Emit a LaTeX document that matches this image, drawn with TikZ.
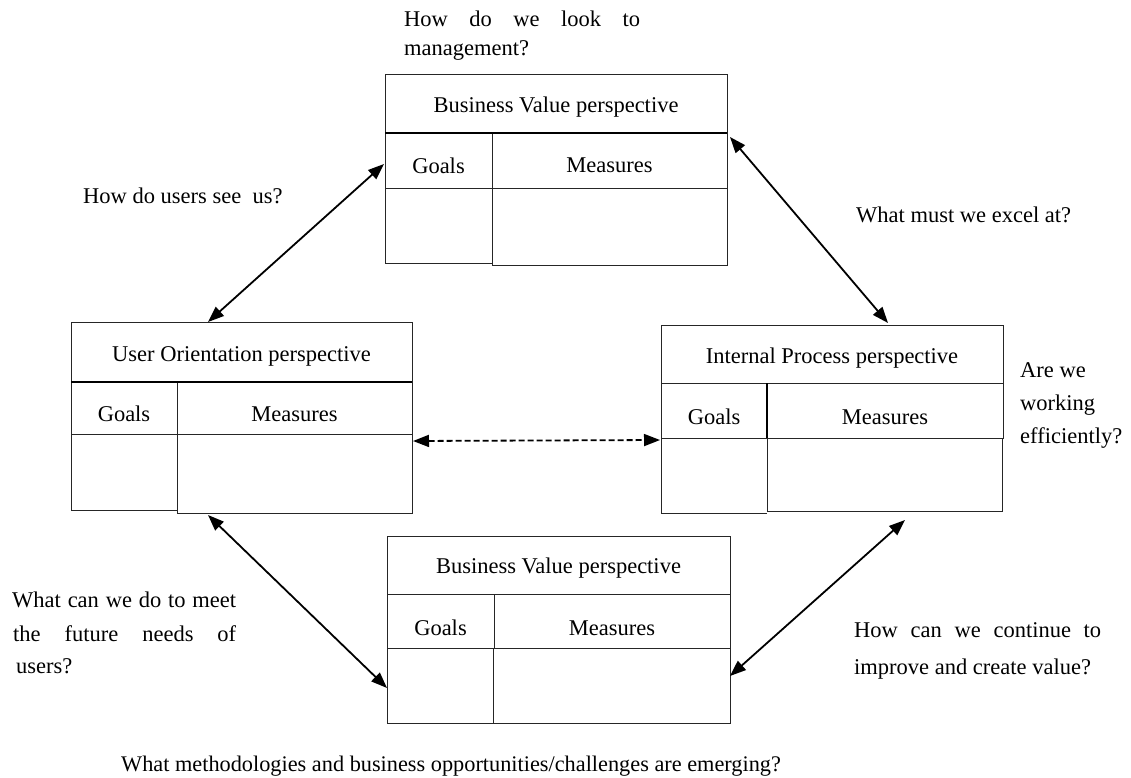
\documentclass[tikz,border=0pt]{standalone}
\usepackage{fontspec}
\setmainfont{Liberation Serif}
\usetikzlibrary{arrows.meta}
\tikzset{
  cell/.style={line width=0.9pt, draw=black!85},
  rule/.style={line width=2.2pt},
  lbl/.style={inner sep=0pt, font=\fontsize{22.5}{27}\selectfont},
  q/.style={lbl, anchor=base west},
  link/.style={line width=1.8pt,
    {Triangle[length=16pt,width=12pt]}-{Triangle[length=16pt,width=12pt]}},
  weak/.style={link, dash pattern=on 6pt off 3pt},
}
\begin{document}
\begin{tikzpicture}[x=1pt, y=-1pt]
\useasboundingbox (0,0) rectangle (1131,778);

% --- Business Value perspective (top) ---
\draw[cell] (385,74) rectangle (727,188)
  (492,133) -- (492,265) -- (727,265) -- (727,188)
  (385,188) -- (385,263) -- (492,263);
\draw[rule] (385,133) -- (727,133);
\node[lbl] (bvtT) at (556,107) {Business Value perspective};
\node[lbl] (bvtG) at (438.5,165.5) {Goals};
\node[lbl] (bvtM) at (609.5,165.5) {Measures};
\coordinate (bvtL) at (384,164);
\coordinate (bvtR) at (730,137);

% --- User Orientation perspective (left) ---
\draw[cell] (71,322) rectangle (412,434)
  (177,382) -- (177,513) -- (412,513) -- (412,434)
  (71,434) -- (71,510) -- (177,510);
\draw[rule] (71,382) -- (412,382);
\node[lbl] (uoT) at (241.5,356) {User Orientation perspective};
\node[lbl] (uoG) at (124,414) {Goals};
\node[lbl] (uoM) at (294.5,414) {Measures};
\coordinate (uoN) at (208,322);
\coordinate (uoS) at (208,515);
\coordinate (uoE) at (413,441);

% --- Internal Process perspective (right) ---
\draw[cell] (661,325) rectangle (1003,438)
  (661,383) -- (1003,383)
  (767,438) -- (767,511) -- (1002,511) -- (1002,438)
  (661,438) -- (661,513) -- (767,513);
\draw[line width=2pt] (767,383) -- (767,438);
\node[lbl] (ipT) at (832,358) {Internal Process perspective};
\node[lbl] (ipG) at (714,417) {Goals};
\node[lbl] (ipM) at (885,417) {Measures};
\coordinate (ipW) at (660,440);
\coordinate (ipN) at (888,323);
\coordinate (ipS) at (905,520);

% --- Business Value perspective (bottom) ---
\draw[cell] (387,536) rectangle (730,648)
  (387,594) -- (730,594)
  (494,594) -- (494,648)
  (493,648) -- (493,723)
  (387,648) -- (387,723) -- (730,723) -- (730,648);
\node[lbl] (bvbT) at (558.5,568) {Business Value perspective};
\node[lbl] (bvbG) at (440.5,628) {Goals};
\node[lbl] (bvbM) at (612,628) {Measures};
\coordinate (bvbL) at (387,688);
\coordinate (bvbR) at (730,676);

% --- connectors ---
\draw[link] (bvtL) -- (uoN);
\draw[link] (bvtR) -- (ipN);
\draw[weak] (uoE) -- (ipW);
\draw[link] (uoS) -- (bvbL);
\draw[link] (ipS) -- (bvbR);

% --- guiding questions ---
\node[q] (q1a) at (404,27) {\makebox[236pt][s]{How do we look to}};
\node[q] (q1b) at (404,56) {management?};
\node[q] (q2) at (83,203) {How do users see\ \ us?};
\node[q] (q3) at (856,222) {What must we excel at?};
\node[q] (q4a) at (1020,377) {Are we};
\node[q] (q4b) at (1020,410) {working};
\node[q] (q4c) at (1020,443) {efficiently?};
\node[q] (q5a) at (12,607) {\makebox[224pt][s]{What can we do to meet}};
\node[q] (q5b) at (13,641) {\makebox[223pt][s]{the future needs of}};
\node[q] (q5c) at (16,673) {users?};
\node[q] (q6a) at (854,637) {\makebox[247pt][s]{How can we continue to}};
\node[q] (q6b) at (854,674) {improve and create value?};
\node[q] (q7) at (121,771) {\fontsize{22.3}{27}\selectfont What methodologies and business opportunities/challenges are emerging?};
\end{tikzpicture}
\end{document}
